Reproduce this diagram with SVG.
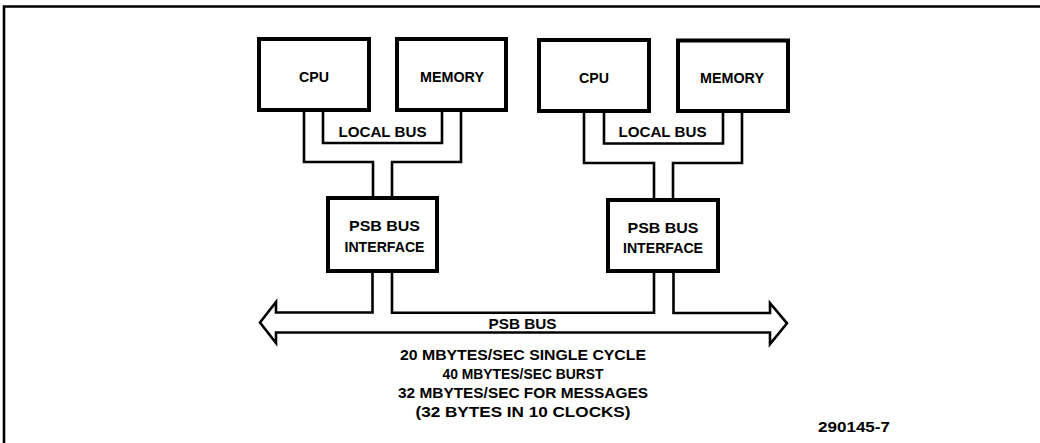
<svg xmlns="http://www.w3.org/2000/svg" width="1040" height="443" viewBox="0 0 1040 443">
<style>
.box{fill:#fff;stroke:#000;stroke-width:4}
.wire{fill:none;stroke:#000;stroke-width:2.6;stroke-linejoin:miter}
.frame{fill:none;stroke:#000;stroke-width:2.6}
text{font-family:"Liberation Sans",Arial,sans-serif;font-weight:bold;font-size:15.5px;fill:#000;text-anchor:middle}
</style>
<rect width="1040" height="443" fill="#fff"/>
<path class="frame" d="M1040,6.5 H4 V443"/>
<g id="connectors">
<path class="wire" d="M304,112 V162 H373 V198"/>
<path class="wire" d="M323,112 V143 H442 V112"/>
<path class="wire" d="M461,112 V162 H392 V198"/>
<path class="wire" d="M584,113 V163 H654 V200"/>
<path class="wire" d="M604,113 V143.5 H723 V113"/>
<path class="wire" d="M742,113 V163 H673 V200"/>
<path class="wire" d="M372.5,273 V312.5 H276 V302 L260,322.5 L276,343 V332.5 H770 V344 L787,323.3 L770,303 V313 H673.5 V273"/>
<path class="wire" d="M392,273 V312.8 H654 V273"/>
<text x="382.5" y="136.5" textLength="88" lengthAdjust="spacingAndGlyphs">LOCAL BUS</text>
<text x="662.5" y="137" textLength="88" lengthAdjust="spacingAndGlyphs">LOCAL BUS</text>
<text x="522.5" y="329" textLength="68" lengthAdjust="spacingAndGlyphs">PSB BUS</text>
</g>
<g id="cpu1"><rect class="box" x="259" y="39" width="110" height="71"/><text x="314" y="82" textLength="30" lengthAdjust="spacingAndGlyphs">CPU</text></g>
<g id="memory1"><rect class="box" x="397" y="39" width="109" height="71"/><text x="452" y="82" textLength="64" lengthAdjust="spacingAndGlyphs">MEMORY</text></g>
<g id="cpu2"><rect class="box" x="539" y="40" width="110" height="71"/><text x="594" y="82.5" textLength="30" lengthAdjust="spacingAndGlyphs">CPU</text></g>
<g id="memory2"><rect class="box" x="678" y="40.5" width="110" height="70.5"/><text x="732" y="82.5" textLength="64" lengthAdjust="spacingAndGlyphs">MEMORY</text></g>
<g id="psb1"><rect class="box" x="328" y="198" width="109" height="73"/><text x="384.5" y="231" textLength="71" lengthAdjust="spacingAndGlyphs">PSB BUS</text><text x="384.5" y="252" textLength="80" lengthAdjust="spacingAndGlyphs">INTERFACE</text></g>
<g id="psb2"><rect class="box" x="608" y="200" width="110" height="71"/><text x="663" y="232.5" textLength="71" lengthAdjust="spacingAndGlyphs">PSB BUS</text><text x="663" y="252.5" textLength="80" lengthAdjust="spacingAndGlyphs">INTERFACE</text></g>
<g id="notes">
<text x="523" y="360" textLength="246" lengthAdjust="spacingAndGlyphs">20 MBYTES/SEC SINGLE CYCLE</text>
<text x="523" y="379" textLength="161" lengthAdjust="spacingAndGlyphs">40 MBYTES/SEC BURST</text>
<text x="523" y="398" textLength="250" lengthAdjust="spacingAndGlyphs">32 MBYTES/SEC FOR MESSAGES</text>
<text x="523" y="416.5" textLength="215" lengthAdjust="spacingAndGlyphs">(32 BYTES IN 10 CLOCKS)</text>
<text x="818" y="432" style="text-anchor:start" textLength="72" lengthAdjust="spacingAndGlyphs">290145-7</text>
</g>
</svg>
